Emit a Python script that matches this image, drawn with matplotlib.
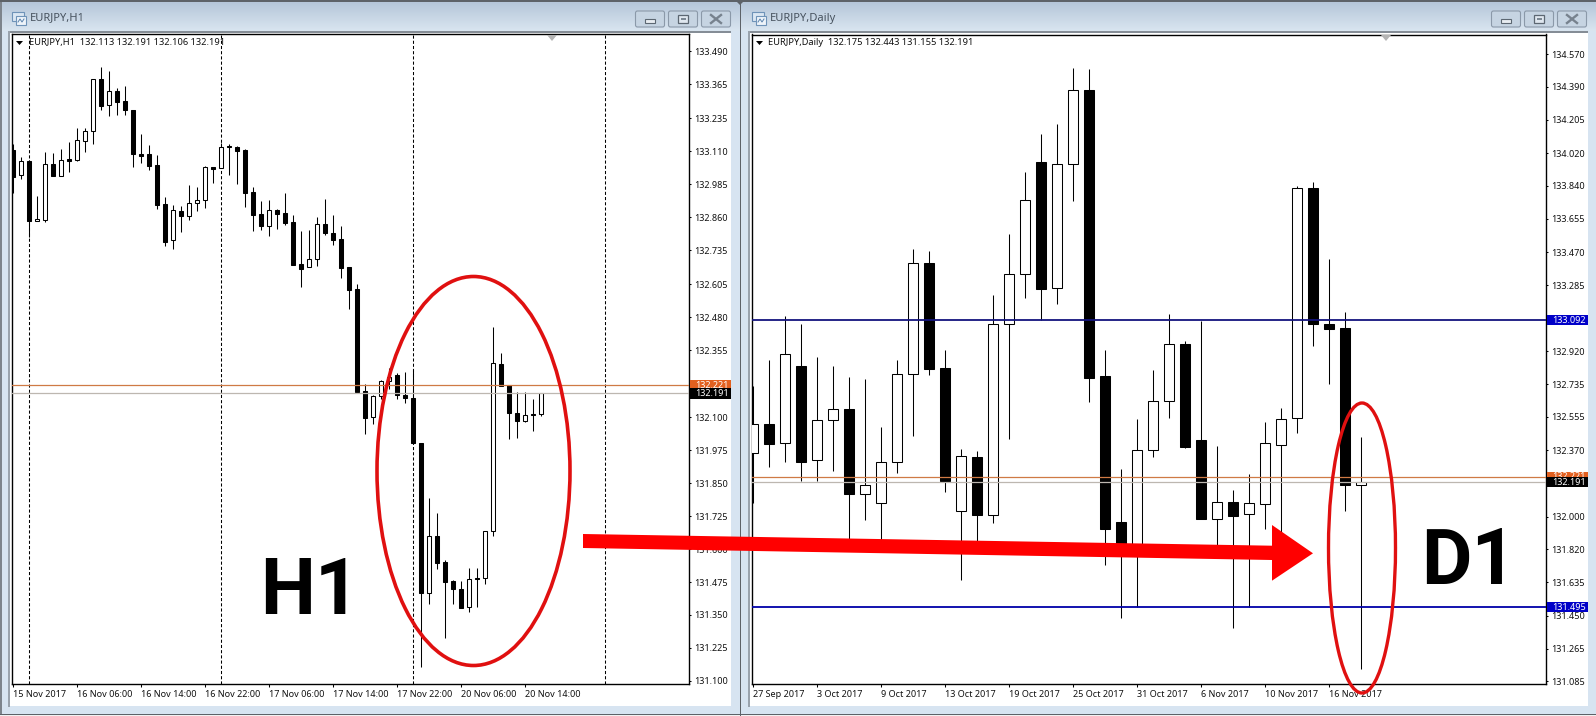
import numpy as np
import matplotlib
matplotlib.use('Agg')
import matplotlib.pyplot as plt
from matplotlib.patches import Rectangle, Ellipse, Polygon, FancyBboxPatch

plt.rcParams['font.family'] = ['Noto Sans', 'DejaVu Sans']

W, H = 1596, 716

# EURJPY H1 candles
h1_open = [133.115, 133.019, 133.072, 132.844, 132.850, 133.060, 133.017, 133.079, 133.078, 133.150,
           133.186, 133.383, 133.284, 133.337, 133.299, 133.265, 133.098, 133.098, 133.057, 132.909,
           132.772, 132.882, 132.863, 132.912, 132.924, 133.049, 133.045, 133.130, 133.126, 133.113,
           132.954, 132.871, 132.825, 132.886, 132.874, 132.840, 132.681, 132.669, 132.700, 132.833,
           132.799, 132.776, 132.669, 132.586, 132.199, 132.101, 132.180, 132.237, 132.260, 132.184,
           132.172, 132.002, 131.432, 131.649, 131.550, 131.479, 131.448, 131.379, 131.491, 131.489,
           131.668, 132.303, 132.222, 132.116, 132.088, 132.112, 132.113]
h1_high = [133.138, 133.087, 133.075, 132.940, 133.106, 133.102, 133.117, 133.144, 133.197, 133.197,
           133.383, 133.428, 133.413, 133.349, 133.356, 133.265, 133.174, 133.132, 133.095, 132.935,
           132.905, 132.902, 132.981, 132.974, 133.053, 133.049, 133.140, 133.138, 133.129, 133.117,
           132.973, 132.920, 132.924, 132.890, 132.950, 132.867, 132.806, 132.811, 132.859, 132.928,
           132.867, 132.825, 132.669, 132.605, 132.227, 132.184, 132.242, 132.286, 132.267, 132.272,
           132.280, 132.002, 131.793, 131.736, 131.558, 131.482, 131.479, 131.529, 131.529, 131.668,
           132.442, 132.343, 132.222, 132.197, 132.197, 132.169, 132.191]
h1_low = [132.953, 133.006, 132.786, 132.844, 132.843, 133.017, 133.015, 133.031, 133.074, 133.107,
          133.139, 133.268, 133.245, 133.249, 133.249, 133.052, 133.067, 133.040, 132.892, 132.752,
          132.740, 132.805, 132.850, 132.885, 132.896, 132.991, 133.045, 133.021, 132.987, 132.900,
          132.809, 132.812, 132.790, 132.816, 132.831, 132.680, 132.596, 132.669, 132.676, 132.793,
          132.755, 132.630, 132.513, 132.193, 132.035, 132.074, 132.170, 132.209, 132.171, 132.156,
          132.004, 131.154, 131.393, 131.523, 131.264, 131.393, 131.378, 131.363, 131.382, 131.469,
          131.651, 132.219, 132.017, 132.023, 132.084, 132.050, 132.106]
h1_close = [133.014, 133.072, 132.847, 132.852, 133.060, 133.017, 133.076, 133.074, 133.151, 133.186,
            133.383, 133.283, 133.337, 133.298, 133.268, 133.101, 133.093, 133.055, 132.907, 132.767,
            132.886, 132.866, 132.912, 132.924, 133.049, 133.044, 133.125, 133.127, 133.112, 132.953,
            132.869, 132.828, 132.886, 132.873, 132.839, 132.680, 132.664, 132.700, 132.833, 132.801,
            132.774, 132.668, 132.585, 132.198, 132.097, 132.180, 132.237, 132.255, 132.183, 132.175,
            132.004, 131.432, 131.649, 131.549, 131.477, 131.448, 131.378, 131.485, 131.488, 131.668,
            132.305, 132.219, 132.116, 132.088, 132.110, 132.109, 132.191]

# EURJPY daily candles
d1_open = [132.352, 132.515, 132.408, 132.837, 132.313, 132.536, 132.597, 132.128, 132.078, 132.302,
           132.791, 133.408, 132.826, 132.033, 132.332, 132.008, 133.069, 133.347, 133.970, 133.269,
           133.959, 134.372, 132.782, 131.970, 131.815, 132.369, 132.641, 132.958, 132.426, 131.985,
           132.080, 132.013, 132.072, 132.397, 132.547, 133.827, 133.069, 133.047, 132.175]
d1_high = [132.726, 132.871, 133.116, 133.071, 132.886, 132.837, 132.775, 132.763, 132.497, 132.871,
           133.488, 133.477, 132.926, 132.374, 132.363, 133.232, 133.570, 133.914, 134.125, 134.181,
           134.492, 134.487, 132.926, 132.263, 132.543, 132.815, 133.127, 132.975, 133.090, 132.393,
           132.148, 132.235, 132.524, 132.602, 133.836, 133.859, 133.433, 133.136, 132.443]
d1_low = [132.078, 132.278, 132.306, 132.200, 132.200, 132.256, 131.870, 131.982, 131.870, 132.245,
          132.450, 132.789, 132.139, 131.650, 131.861, 131.967, 132.434, 133.218, 133.094, 133.184,
          133.757, 132.639, 131.733, 131.439, 131.500, 132.334, 132.550, 132.383, 131.985, 131.843,
          131.383, 131.500, 131.933, 131.907, 132.467, 132.949, 132.739, 132.033, 131.155]
d1_close = [132.513, 132.406, 132.902, 132.306, 132.536, 132.597, 132.128, 132.174, 132.302, 132.791,
            133.408, 132.823, 132.200, 132.335, 132.011, 133.069, 133.347, 133.759, 133.268, 133.959,
            134.370, 132.773, 131.933, 131.824, 132.369, 132.641, 132.958, 132.389, 131.989, 132.080,
            132.006, 132.074, 132.408, 132.541, 133.825, 133.068, 133.045, 132.178, 132.191]

h1_yticks = [133.490, 133.365, 133.235, 133.110, 132.985, 132.860, 132.735, 132.605, 132.480, 132.355,
             132.225, 132.100, 131.975, 131.850, 131.725, 131.600, 131.475, 131.350, 131.225, 131.100]
d1_yticks = [134.570, 134.390, 134.205, 134.020, 133.840, 133.655, 133.470, 133.285, 133.100, 132.920,
             132.735, 132.555, 132.370, 132.185, 132.000, 131.820, 131.635, 131.450, 131.265, 131.085]
h1_xticks = [0, 8, 16, 24, 32, 40, 48, 56, 64]
h1_xlabels = ['15 Nov 2017', '16 Nov 06:00', '16 Nov 14:00', '16 Nov 22:00', '17 Nov 06:00',
              '17 Nov 14:00', '17 Nov 22:00', '20 Nov 06:00', '20 Nov 14:00']
d1_xticks = [0, 4, 8, 12, 16, 20, 24, 28, 32, 36]
d1_xlabels = ['27 Sep 2017', '3 Oct 2017', '9 Oct 2017', '13 Oct 2017', '19 Oct 2017',
              '25 Oct 2017', '31 Oct 2017', '6 Nov 2017', '10 Nov 2017', '16 Nov 2017']
h1_periods = [2, 26, 50, 74]
ask, bid = 132.221, 132.191
d1_levels = [133.092, 131.495]


def px_axes(fig, x0, y0, x1, y1):
    return fig.add_axes([x0 / W, 1 - y1 / H, (x1 - x0) / W, (y1 - y0) / H])


def candles(ax, o, h, l, c, width):
    o, h, l, c = map(np.array, (o, h, l, c))
    x = np.arange(len(o))
    ax.vlines(x, l, h, color='k', lw=0.75, zorder=2)
    up = c >= o
    ax.bar(x[up], (c - o)[up], bottom=o[up], width=width, fc='white', ec='k', lw=0.75, zorder=3)
    ax.bar(x[~up], (o - c)[~up], bottom=c[~up], width=width, fc='k', ec='k', lw=0.75, zorder=3)


def style(ax, yticks, xticks, xlabels):
    ax.yaxis.tick_right()
    ax.set_yticks(yticks)
    ax.set_yticklabels(['%.3f' % v for v in yticks], fontsize=6.5, color='#111111')
    ax.set_xticks(xticks)
    ax.set_xticklabels(xlabels, fontsize=6.5, ha='left', color='#111111')
    ax.tick_params(axis='y', length=1.5, width=0.75, pad=2.4)
    ax.tick_params(axis='x', length=2, width=0.75, pad=2)
    for s in ax.spines.values():
        s.set_linewidth(1.0)


def tag(ax, price, text, fc, width_px, half_px, z=6):
    box = ax.get_position()
    px_w = box.width * W
    px_h = box.height * H
    lo, hi = ax.get_ylim()
    dy = half_px / px_h * (hi - lo)
    ax.add_patch(Rectangle((1 + 1.5 / px_w, price - dy), width_px / px_w, 2 * dy, fc=fc, ec='none',
                           transform=ax.get_yaxis_transform(), clip_on=False, zorder=z))
    ax.text(1 + 6 / px_w, price, text, color='white', fontsize=6.5, va='center', ha='left',
            transform=ax.get_yaxis_transform(), clip_on=False, zorder=z + 0.1)


fig = plt.figure(figsize=(W / 100, H / 100), dpi=100, facecolor='#d7e4f1')

# window frames
bg = fig.add_axes([0, 0, 1, 1], zorder=0)
bg.set_xlim(0, W)
bg.set_ylim(H, 0)
bg.axis('off')
grad = np.linspace(0, 1, 30)[:, None]
bar_cmap = matplotlib.colors.LinearSegmentedColormap.from_list('bar', ['#b5c6d9', '#d9e5f0'])
bg.imshow(grad, extent=(0, W, 31, 2), cmap=bar_cmap, aspect='auto', zorder=1)
bg.set_xlim(0, W)
bg.set_ylim(H, 0)
for x0, x1 in [(9, 731), (749, 1588)]:
    bg.add_patch(Rectangle((x0, 32), x1 - x0, 674, fc='white', ec='none', zorder=2))
    bg.add_patch(Rectangle((x0 - 1, 31), x1 - x0 + 1, 1.5, fc='#858d96', ec='none', zorder=3))
    bg.add_patch(Rectangle((x0 - 1, 31), 1.5, 676, fc='#9aa3ad', ec='none', zorder=3))
bg.add_patch(Rectangle((0, 0), W, 2, fc='#5d6268', ec='none', zorder=3))
bg.add_patch(Rectangle((0, 713.5), W, 1.2, fc='#5d6268', ec='none', zorder=3))
bg.add_patch(Rectangle((0, 714.7), W, 2, fc='#f2f2f2', ec='none', zorder=3))
bg.add_patch(Rectangle((739.5, 0), 1.5, 716, fc='#5d6268', ec='none', zorder=3))
bg.add_patch(Rectangle((0, 2), 1.5, 712, fc='#7d848c', ec='none', zorder=3))
bg.add_patch(Polygon([(735, 0), (745, 0), (740, 5)], fc='#5d6268', ec='none', zorder=4))

for name, tx, ix, btns in [('EURJPY,H1', 30, 11, (635, 668, 701)), ('EURJPY,Daily', 770, 751, (1491, 1524, 1557))]:
    bg.text(tx, 18, name, fontsize=8, color='#47525e', va='center', ha='left', zorder=5)
    # little window icon
    bg.add_patch(Rectangle((ix + 1, 12), 12, 9, fc='#dbe7f3', ec='#6f93b8', lw=0.8, zorder=5))
    bg.add_patch(Rectangle((ix + 5, 16), 10, 9, fc='#eef4fa', ec='#6f93b8', lw=0.8, zorder=6))
    bg.plot([ix + 7, ix + 9, ix + 11, ix + 13], [22, 19, 22, 19], color='#5a83ad', lw=0.7, zorder=7)
    for k, bx in enumerate(btns):
        bg.add_patch(FancyBboxPatch((bx + 1, 11.5), 28, 15, boxstyle='round,pad=0.5,rounding_size=2',
                                    fc='#c6d4e2', ec='#8b99a9', lw=0.8, zorder=5))
        cx = bx + 15
        if k == 0:
            bg.add_patch(Rectangle((cx - 5, 19), 10, 4, fc='#e8edf2', ec='#5c6772', lw=0.8, zorder=6))
        elif k == 1:
            bg.add_patch(Rectangle((cx - 5, 15), 10, 8, fc='#dfe7ef', ec='#5c6772', lw=0.9, zorder=6))
            bg.add_patch(Rectangle((cx - 2.5, 18), 5, 2, fc='#7c8894', ec='none', zorder=7))
        else:
            bg.plot([cx - 5, cx + 5], [15, 23], color='#77828e', lw=1.7, zorder=6)
            bg.plot([cx - 5, cx + 5], [23, 15], color='#77828e', lw=1.7, zorder=6)

# H1 chart
ax1 = px_axes(fig, 12.3, 34, 688.7, 684)
ax1.set_zorder(2)
ax1.patch.set_alpha(0)
candles(ax1, h1_open, h1_high, h1_low, h1_close, 0.53)
ax1.set_xlim(-0.129, 84.42)
ax1.set_ylim(131.088, 133.555)
style(ax1, h1_yticks, h1_xticks, h1_xlabels)
for p in h1_periods:
    ax1.axvline(p, color='k', lw=0.75, ls=(0, (3, 2)), zorder=1)
ax1.axhline(ask, color='#cf7a45', lw=0.9, zorder=4)
ax1.axhline(bid, color='#bdb7b0', lw=0.9, zorder=4)
tag(ax1, ask, '%.3f' % ask, '#e2601f', 41, 5.5)
tag(ax1, bid, '%.3f' % bid, 'black', 41, 5.3, z=7)

# Daily chart
ax2 = px_axes(fig, 752.3, 34.5, 1545.7, 684.3)
ax2.set_zorder(2)
ax2.patch.set_alpha(0)
candles(ax2, d1_open, d1_high, d1_low, d1_close, 0.62)
ax2.set_xlim(-0.064, 49.52)
ax2.set_ylim(131.068, 134.680)
style(ax2, d1_yticks, d1_xticks, d1_xlabels)
ax2.axhline(ask, color='#cf7a45', lw=0.9, zorder=4)
ax2.axhline(bid, color='#bdb7b0', lw=0.9, zorder=4)
ax2.axhline(d1_levels[0], color='#14147e', lw=1.3, zorder=4)
ax2.axhline(d1_levels[1], color='#0000a8', lw=1.3, zorder=4)
tag(ax2, ask, '%.3f' % ask, '#e2601f', 41, 5)
tag(ax2, bid, '%.3f' % bid, 'black', 41, 5, z=7)
tag(ax2, d1_levels[0], '%.3f' % d1_levels[0], '#0000c8', 41, 5)
tag(ax2, d1_levels[1], '%.3f' % d1_levels[1], '#0000c8', 41, 5)

# annotations on top
top = fig.add_axes([0, 0, 1, 1], zorder=5)
top.set_xlim(0, W)
top.set_ylim(H, 0)
top.axis('off')
top.patch.set_alpha(0)
for tx, ix, gx, s in [(29, 16, 552, 'EURJPY,H1  132.113 132.191 132.106 132.191'),
                      (768, 756, 1386, 'EURJPY,Daily  132.175 132.443 131.155 132.191')]:
    top.text(tx, 42.7, s, fontsize=6.7, color='#111111', va='center', ha='left')
    top.add_patch(Polygon([(ix, 41), (ix + 7, 41), (ix + 3.5, 45)], fc='k', ec='none'))
    top.add_patch(Polygon([(gx - 5, 35), (gx + 5, 35), (gx, 41)], fc='#b4b4b4', ec='none'))

top.add_patch(Ellipse((473.5, 471), 193, 389, fc='none', ec='#e01010', lw=2.6))
top.add_patch(Ellipse((1362, 548), 67, 290, fc='none', ec='#e01010', lw=2.4))
top.add_patch(Polygon([(583, 534), (1272, 545.7), (1272, 525), (1313, 553.3), (1272, 580.7),
                       (1272, 560), (583, 548)], fc='#ff0000', ec='none'))
top.text(309.5, 585.5, 'H1', fontsize=56, fontweight='bold', family='Roboto', color='k', ha='center', va='center_baseline')
top.text(1468.5, 555.5, 'D1', fontsize=56, fontweight='bold', family='Roboto', color='k', ha='center', va='center_baseline')

fig.savefig('out.png', dpi=100, facecolor=fig.get_facecolor())
